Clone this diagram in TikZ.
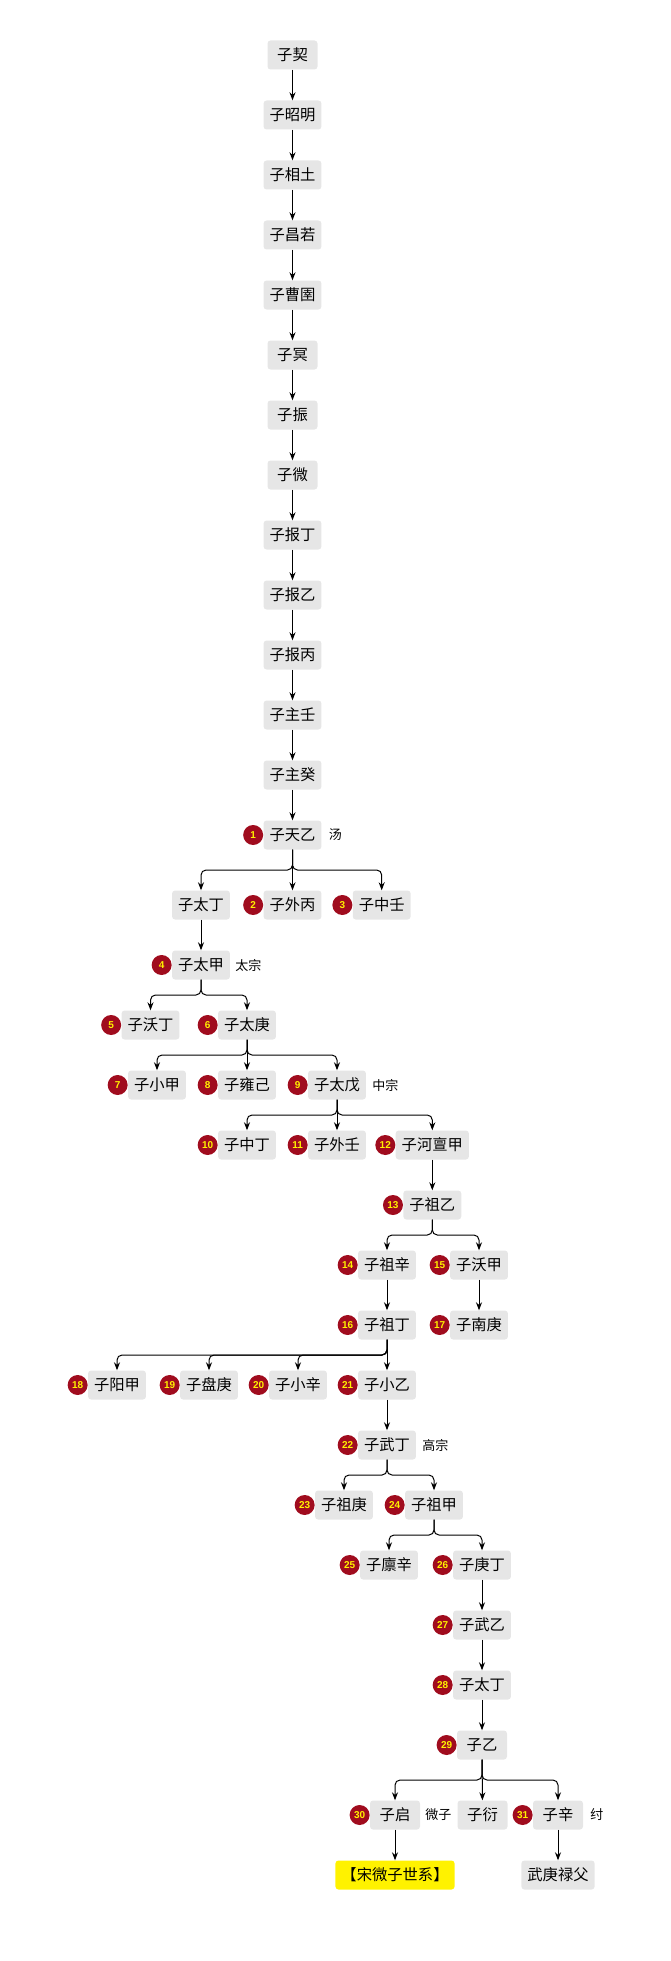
\documentclass[tikz,border=0pt]{standalone}
\usepackage{fontspec}
\setmainfont{Noto Sans CJK SC}
\newfontfamily\numfont{Liberation Sans}
\usepackage{xcolor}
\definecolor{boxgray}{HTML}{E6E6E6}
\definecolor{badgered}{HTML}{A00C1E}
\usepackage{tikz}
\usetikzlibrary{positioning,calc}
\usetikzlibrary{arrows.meta}
\tikzset{>={Stealth[length=8pt,width=6pt]}}
\tikzset{
  person/.style={fill=boxgray, rounded corners=3pt, minimum height=29pt, minimum width=50pt,
    inner xsep=6pt, inner ysep=0pt, font=\fontsize{15.3}{18}\selectfont},
  badge/.style={circle, fill=badgered, text=yellow, minimum size=20pt, inner sep=0pt,
    font=\numfont\bfseries\fontsize{10}{12}\selectfont},
  epithet/.style={inner sep=0pt, font=\fontsize{13}{15}\selectfont},
  link/.style={->, line width=1pt, rounded corners=5pt},
  fork/.style={to path={|- ($(\tikztostart)!.5!(\tikztotarget)$) -| (\tikztotarget)}},
}

\begin{document}
\begin{tikzpicture}[x=1pt,y=-1pt]

\useasboundingbox (0,0) rectangle (671,1961);

\node[person] (xie) at (292.5,55) {子契};
\node[person] (zhaoming) at (292.5,115) {子昭明};
\node[person] (xiangtu) at (292.5,175) {子相土};
\node[person] (changruo) at (292.5,235) {子昌若};
\node[person] (caoyu) at (292.5,295) {子曹圉};
\node[person] (ming) at (292.5,355) {子冥};
\node[person] (zhen) at (292.5,415) {子振};
\node[person] (wei) at (292.5,475) {子微};
\node[person] (baoding) at (292.5,535) {子报丁};
\node[person] (baoyi) at (292.5,595) {子报乙};
\node[person] (baobing) at (292.5,655) {子报丙};
\node[person] (zhuren) at (292.5,715) {子主壬};
\node[person] (zhugui) at (292.5,775) {子主癸};
\node[person] (tianyi) at (292.5,835) {子天乙};

\node[person] (taiding) at (201,905) {子太丁};
\node[person] (waibing) at (292.5,905) {子外丙};
\node[person] (zhongren) at (381.7,905) {子中壬};
\node[person] (taijia) at (201,965) {子太甲};
\node[person] (woding) at (150.5,1025) {子沃丁};
\node[person] (taigeng) at (247,1025) {子太庚};
\node[person] (xiaojia) at (157,1085) {子小甲};
\node[person] (yongji) at (247,1085) {子雍己};
\node[person] (taiwu) at (337,1085) {子太戊};
\node[person] (zhongding) at (247,1145) {子中丁};
\node[person] (wairen) at (337,1145) {子外壬};
\node[person] (hedanjia) at (432.3,1145) {子河亶甲};
\node[person] (zuyi) at (432.3,1205) {子祖乙};
\node[person] (zuxin) at (387,1265) {子祖辛};
\node[person] (wojia) at (479,1265) {子沃甲};
\node[person] (zuding) at (387,1325) {子祖丁};
\node[person] (nangeng) at (479,1325) {子南庚};
\node[person] (yangjia) at (117,1385) {子阳甲};
\node[person] (pangeng) at (209,1385) {子盘庚};
\node[person] (xiaoxin) at (298,1385) {子小辛};
\node[person] (xiaoyi) at (387,1385) {子小乙};
\node[person] (wuding) at (387,1445) {子武丁};
\node[person] (zugeng) at (344,1505) {子祖庚};
\node[person] (zujia) at (434,1505) {子祖甲};
\node[person] (linxin) at (389,1565) {子廪辛};
\node[person] (gengding) at (482,1565) {子庚丁};
\node[person] (wuyi) at (482,1625) {子武乙};
\node[person] (wending) at (482,1685) {子太丁};
\node[person] (diyi) at (482,1745) {子乙};
\node[person] (weiziqi) at (395,1815) {子启};
\node[person] (yan) at (482.5,1815) {子衍};
\node[person] (zhou) at (558,1815) {子辛};
\node[person, fill=yellow] (song) at (395,1875) {【宋微子世系】};
\node[person] (wugeng) at (558,1875) {武庚禄父};

\node[badge, left=0pt of tianyi] (b1) {1};
\node[badge, left=0pt of waibing] (b2) {2};
\node[badge, left=0pt of zhongren] (b3) {3};
\node[badge, left=0pt of taijia] (b4) {4};
\node[badge, left=0pt of woding] (b5) {5};
\node[badge, left=0pt of taigeng] (b6) {6};
\node[badge, left=0pt of xiaojia] (b7) {7};
\node[badge, left=0pt of yongji] (b8) {8};
\node[badge, left=0pt of taiwu] (b9) {9};
\node[badge, left=0pt of zhongding] (b10) {10};
\node[badge, left=0pt of wairen] (b11) {11};
\node[badge, left=0pt of hedanjia] (b12) {12};
\node[badge, left=0pt of zuyi] (b13) {13};
\node[badge, left=0pt of zuxin] (b14) {14};
\node[badge, left=0pt of wojia] (b15) {15};
\node[badge, left=0pt of zuding] (b16) {16};
\node[badge, left=0pt of nangeng] (b17) {17};
\node[badge, left=0pt of yangjia] (b18) {18};
\node[badge, left=0pt of pangeng] (b19) {19};
\node[badge, left=0pt of xiaoxin] (b20) {20};
\node[badge, left=0pt of xiaoyi] (b21) {21};
\node[badge, left=0pt of wuding] (b22) {22};
\node[badge, left=0pt of zugeng] (b23) {23};
\node[badge, left=0pt of zujia] (b24) {24};
\node[badge, left=0pt of linxin] (b25) {25};
\node[badge, left=0pt of gengding] (b26) {26};
\node[badge, left=0pt of wuyi] (b27) {27};
\node[badge, left=0pt of wending] (b28) {28};
\node[badge, left=0pt of diyi] (b29) {29};
\node[badge, left=0pt of weiziqi] (b30) {30};
\node[badge, left=0pt of zhou] (b31) {31};

\node[epithet, right=7pt of tianyi] (tang) {汤};
\node[epithet, right=5pt of taijia] (taizong) {太宗};
\node[epithet, right=6pt of taiwu] (zhongzong) {中宗};
\node[epithet, right=6pt of wuding] (gaozong) {高宗};
\node[epithet, right=5pt of weiziqi] (weizi) {微子};
\node[epithet, right=7pt of zhou] (zhouwang) {纣};

\draw[link] (xie) -- (zhaoming);
\draw[link] (zhaoming) -- (xiangtu);
\draw[link] (xiangtu) -- (changruo);
\draw[link] (changruo) -- (caoyu);
\draw[link] (caoyu) -- (ming);
\draw[link] (ming) -- (zhen);
\draw[link] (zhen) -- (wei);
\draw[link] (wei) -- (baoding);
\draw[link] (baoding) -- (baoyi);
\draw[link] (baoyi) -- (baobing);
\draw[link] (baobing) -- (zhuren);
\draw[link] (zhuren) -- (zhugui);
\draw[link] (zhugui) -- (tianyi);

\draw[link] (tianyi.south) to[fork] (taiding.north);
\draw[link] (tianyi) -- (waibing);
\draw[link] (tianyi.south) to[fork] (zhongren.north);
\draw[link] (taiding) -- (taijia);
\draw[link] (taijia.south) to[fork] (woding.north);
\draw[link] (taijia.south) to[fork] (taigeng.north);
\draw[link] (taigeng.south) to[fork] (xiaojia.north);
\draw[link] (taigeng) -- (yongji);
\draw[link] (taigeng.south) to[fork] (taiwu.north);
\draw[link] (taiwu.south) to[fork] (zhongding.north);
\draw[link] (taiwu) -- (wairen);
\draw[link] (taiwu.south) to[fork] (hedanjia.north);
\draw[link] (hedanjia) -- (zuyi);
\draw[link] (zuyi.south) to[fork] (zuxin.north);
\draw[link] (zuyi.south) to[fork] (wojia.north);
\draw[link] (zuxin) -- (zuding);
\draw[link] (wojia) -- (nangeng);
\draw[link] (zuding.south) to[fork] (yangjia.north);
\draw[link] (zuding.south) to[fork] (pangeng.north);
\draw[link] (zuding.south) to[fork] (xiaoxin.north);
\draw[link] (zuding) -- (xiaoyi);
\draw[link] (xiaoyi) -- (wuding);
\draw[link] (wuding.south) to[fork] (zugeng.north);
\draw[link] (wuding.south) to[fork] (zujia.north);
\draw[link] (zujia.south) to[fork] (linxin.north);
\draw[link] (zujia.south) to[fork] (gengding.north);
\draw[link] (gengding) -- (wuyi);
\draw[link] (wuyi) -- (wending);
\draw[link] (wending) -- (diyi);
\draw[link] (diyi.south) to[fork] (weiziqi.north);
\draw[link] (diyi) -- (yan);
\draw[link] (diyi.south) to[fork] (zhou.north);
\draw[link] (weiziqi) -- (song);
\draw[link] (zhou) -- (wugeng);

\end{tikzpicture}
\end{document}
